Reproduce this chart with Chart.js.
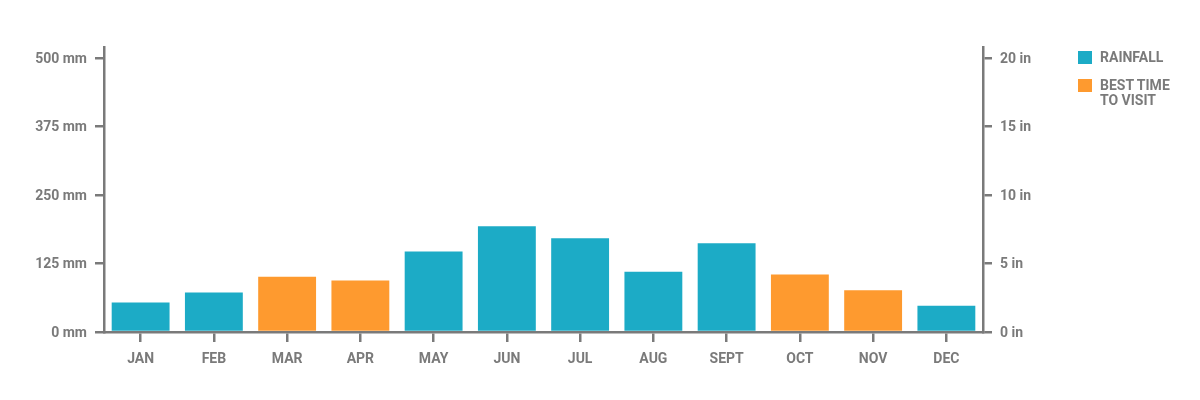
<!DOCTYPE html>
<html>
<head>
<meta charset="utf-8">
<script src="https://cdn.jsdelivr.net/npm/chart.js@4"></script>
<style>
  html, body { margin: 0; padding: 0; background: #fff; }
  #wrap { position: relative; width: 1200px; height: 400px; }
  #legend { position: absolute; left: 1078px; top: 50px; font-family: Roboto, 'Liberation Sans', sans-serif; font-weight: bold; font-size: 14px; color: #7a7a7a; line-height: 15.5px; }
  .item { display: flex; align-items: flex-start; margin-bottom: 12px; }
  .sw { width: 14px; height: 13px; margin-right: 8px; margin-top: 1px; flex: none; }
</style>
</head>
<body>
<div id="wrap">
  <canvas id="c" width="1200" height="400"></canvas>
  <div id="legend"></div>
</div>
<script>
const months = ['JAN','FEB','MAR','APR','MAY','JUN','JUL','AUG','SEPT','OCT','NOV','DEC'];
const rainfallMm = [54, 72, 101, 94, 147, 193, 171, 110, 162, 105, 76, 48];
const bestTime = [false, false, true, true, false, false, false, false, false, true, true, false];
const mmTicks = [0, 125, 250, 375, 500];
const inTicks = [0, 5, 10, 15, 20];
const legendLabels = [['RAINFALL'], ['BEST TIME', 'TO VISIT']];
const rainColor = '#1cabc6';
const bestColor = '#fe9a2f';
const axisColor = '#7a7a7a';
const fontFamily = "Roboto, 'Liberation Sans', sans-serif";

const legendColors = [rainColor, bestColor];
const legendEl = document.getElementById('legend');
legendLabels.forEach((lines, i) => {
  const it = document.createElement('div');
  it.className = 'item';
  const sw = document.createElement('div');
  sw.className = 'sw';
  sw.style.background = legendColors[i];
  const tx = document.createElement('div');
  tx.innerHTML = lines.join('<br>');
  it.appendChild(sw); it.appendChild(tx);
  legendEl.appendChild(it);
});

const tickFont = { family: fontFamily, size: 14, weight: 'bold' };

new Chart(document.getElementById('c'), {
  type: 'bar',
  data: {
    labels: months,
    datasets: [{
      label: 'RAINFALL',
      data: rainfallMm,
      backgroundColor: bestTime.map(b => b ? bestColor : rainColor),
      borderWidth: 0,
      barPercentage: 0.79,
      categoryPercentage: 1.0,
      yAxisID: 'y'
    }]
  },
  options: {
    responsive: false,
    animation: false,
    devicePixelRatio: 1,
    layout: { padding: { left: 0, top: 47, right: 137, bottom: 28 } },
    plugins: { legend: { display: false }, tooltip: { enabled: false } },
    scales: {
      x: {
        grid: { display: true, drawOnChartArea: false, drawTicks: true, offset: false, tickLength: 10, color: axisColor, lineWidth: 2.5 },
        border: { display: true, color: axisColor, width: 2.5 },
        ticks: { color: axisColor, font: tickFont, padding: 9, maxRotation: 0 },
        afterFit: s => { s.height = 40; }
      },
      y: {
        position: 'left',
        min: 0, max: 520,
        afterBuildTicks: s => { s.ticks = mmTicks.map(v => ({ value: v })); },
        grid: { display: true, drawOnChartArea: false, drawTicks: true, tickLength: 9, color: axisColor, lineWidth: 2.5 },
        border: { display: true, color: axisColor, width: 2.5 },
        ticks: { color: axisColor, font: tickFont, padding: 8, labelOffset: 1.5, callback: v => v + ' mm' },
        afterFit: s => { s.width = 104; }
      },
      y2: {
        position: 'right',
        min: 0, max: 20.8,
        afterBuildTicks: s => { s.ticks = inTicks.map(v => ({ value: v })); },
        grid: { display: true, drawOnChartArea: false, drawTicks: true, tickLength: 9, color: axisColor, lineWidth: 2.5 },
        border: { display: true, color: axisColor, width: 2.5 },
        ticks: { color: axisColor, font: tickFont, padding: 8, labelOffset: 1.5, callback: v => v + ' in' },
        afterFit: s => { s.width = 80; }
      }
    }
  }
});
</script>
</body>
</html>
